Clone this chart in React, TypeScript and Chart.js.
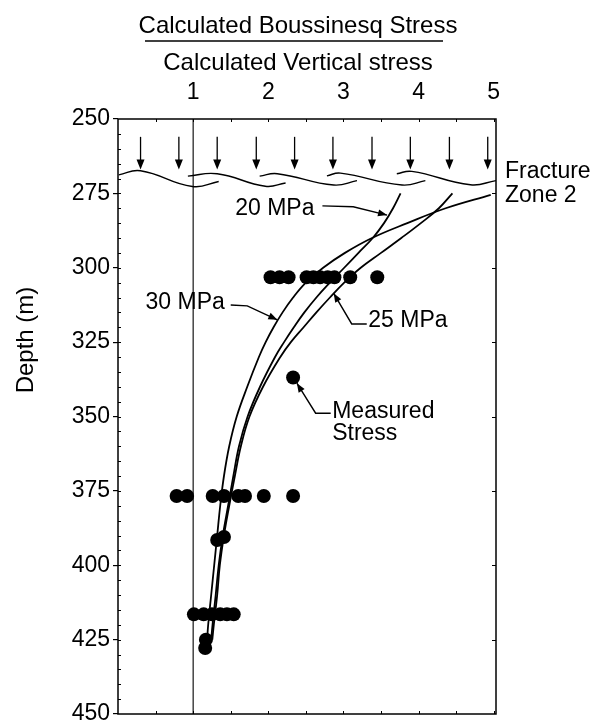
import React, { useEffect, useRef } from "react";
import { Chart, registerables } from "chart.js";

Chart.register(...registerables);

const FONT = '"Liberation Sans", Arial, Helvetica, sans-serif';

// ---- axes ----
const xTickValues = [1, 2, 3, 4, 5];
const xMin = 0;
const xMax = 5.03;
const depthMin = 250;
const depthMax = 450;
const depthStep = 25;

// ---- calculated curves (stress read at depth) ----
const curveDepth = [275, 280, 285, 290, 295, 300, 305, 310, 315, 320, 325, 330, 340, 350, 360, 370, 380, 390, 400, 410, 420, 425];
const curve20Stress = [3.76, 3.66, 3.54, 3.39, 3.2, 3.01, 2.82, 2.64, 2.48, 2.34, 2.21, 2.09, 1.89, 1.725, 1.61, 1.535, 1.465, 1.395, 1.34, 1.3, 1.258, 1.24];
const curve25Stress = [4.45, 4.27, 4.03, 3.77, 3.5, 3.23, 3.01, 2.82, 2.64, 2.47, 2.3, 2.16, 1.93, 1.75, 1.635, 1.555, 1.48, 1.41, 1.355, 1.32, 1.275, 1.255];
const curve30Depth = [275.5, 280, 285, 290, 295, 300, 305, 310, 315, 320, 325, 330, 340, 350, 360, 370, 380, 390, 400, 410, 420, 425];
const curve30Stress = [4.96, 4.36, 3.85, 3.38, 3.02, 2.73, 2.5, 2.33, 2.19, 2.07, 1.965, 1.875, 1.72, 1.58, 1.48, 1.41, 1.36, 1.32, 1.28, 1.24, 1.2, 1.186];

// ---- measured stress ----
const measuredStress = [
  2.03, 2.15, 2.27, 2.51, 2.6, 2.69, 2.79, 2.88, 3.09, 3.45,
  2.33,
  0.78, 0.92, 1.26, 1.41, 1.6, 1.69, 1.94, 2.33,
  1.32, 1.41,
  1.01, 1.14, 1.25, 1.36, 1.45, 1.54,
  1.17, 1.16,
];
const measuredDepth = [
  303.2, 303.2, 303.2, 303.2, 303.2, 303.2, 303.2, 303.2, 303.2, 303.2,
  336.9,
  376.7, 376.7, 376.7, 376.7, 376.7, 376.7, 376.7, 376.7,
  391.5, 390.5,
  416.5, 416.5, 416.5, 416.5, 416.5, 416.5,
  425, 427.8,
];

// ---- reference line at calculated vertical stress = 1 ----
const refStress = [1, 1];
const refDepth = [250, 450];

// ---- fracture zone 2 sketch (wavy segments and load arrows) ----
const wave1Stress = [0.01, 0.3, 0.99, 1.34];
const wave1Depth = [268.8, 267.4, 272.7, 271.0];
const wave2Stress = [0.93, 1.32, 1.96, 2.23];
const wave2Depth = [269.2, 268.4, 272.6, 271.5];
const wave3Stress = [1.885, 2.12, 2.87, 3.18];
const wave3Depth = [269.2, 268.4, 272.2, 270.7];
const wave4Stress = [2.78, 2.96, 3.78, 4.09];
const wave4Depth = [269.1, 268.2, 272.2, 270.7];
const wave5Stress = [3.71, 3.91, 4.69, 5.03];
const wave5Depth = [268.4, 267.6, 272.1, 270.7];

const loadArrowStress = [0.3, 0.81, 1.32, 1.84, 2.35, 2.86, 3.38, 3.89, 4.41, 4.92];
const loadArrowTopDepth = 256;
const loadArrowTipDepth = 267;

// ---- labels ----
const topTitle = "Calculated Boussinesq Stress";
const subTitle = "Calculated Vertical stress";
const yTitle = "Depth (m)";

type Note = { lines: string[]; x: number; y: number; dy?: number; leader?: number[][] };
const notes: Note[] = [
  { lines: ["20 MPa"], x: 1.56, y: 282.3, leader: [[2.72, 279.2], [3.13, 279.5], [3.58, 282.3]] },
  { lines: ["30 MPa"], x: 0.366, y: 313.9, leader: [[1.5, 312.5], [1.72, 312.8], [2.12, 317.5]] },
  { lines: ["25 MPa"], x: 3.33, y: 320.0, leader: [[3.31, 318.9], [3.11, 318.9], [2.87, 308.6]] },
  { lines: ["Measured", "Stress"], x: 2.85, y: 350.6, dy: 7.3, leader: [[2.83, 348.9], [2.63, 348.9], [2.38, 338.8]] },
  { lines: ["Fracture", "Zone 2"], x: 5.15, y: 269.9, dy: 7.9 },
];

function arrowHead(ctx: CanvasRenderingContext2D, x0: number, y0: number, x1: number, y1: number, len: number, half: number) {
  const a = Math.atan2(y1 - y0, x1 - x0);
  const c = Math.cos(a), s = Math.sin(a);
  ctx.beginPath();
  ctx.moveTo(x1, y1);
  ctx.lineTo(x1 - len * c + half * s, y1 - len * s - half * c);
  ctx.lineTo(x1 - len * c - half * s, y1 - len * s + half * c);
  ctx.closePath();
  ctx.fill();
}

const decor = {
  id: "decor",
  afterDraw(chart: any) {
    const ctx: CanvasRenderingContext2D = chart.ctx;
    const xs = chart.scales.x;
    const ys = chart.scales.y;
    const { left, right, top, bottom } = chart.chartArea;
    const px = (v: number) => xs.getPixelForValue(v);
    const py = (v: number) => ys.getPixelForValue(v);
    ctx.save();
    ctx.strokeStyle = "#000";
    ctx.fillStyle = "#000";

    // frame
    ctx.lineWidth = 1.5;
    ctx.strokeRect(left, top, right - left, bottom - top);

    // minor ticks
    ctx.lineWidth = 1;
    ctx.beginPath();
    for (let d = depthMin + 5; d < depthMax; d += 5) {
      const y = Math.round(py(d)) + 0.5;
      ctx.moveTo(left, y);
      ctx.lineTo(left + 3, y);
      if (d % 25 === 0) {
        ctx.moveTo(right, y);
        ctx.lineTo(right - 4, y);
      }
    }
    for (let v = 0.5; v < xMax; v += 0.5) {
      const x = Math.round(px(v)) + 0.5;
      ctx.moveTo(x, top);
      ctx.lineTo(x, top + 3);
      ctx.moveTo(x, bottom);
      ctx.lineTo(x, bottom - 3);
    }
    ctx.stroke();

    // load arrows
    ctx.lineWidth = 1.3;
    for (const v of loadArrowStress) {
      const x = px(v);
      const y0 = py(loadArrowTopDepth);
      const y1 = py(loadArrowTipDepth);
      ctx.beginPath();
      ctx.moveTo(x, y0);
      ctx.lineTo(x, y1 - 6);
      ctx.stroke();
      arrowHead(ctx, x, y0, x, y1, 10, 4);
    }

    // notes
    ctx.font = `23px ${FONT}`;
    ctx.textAlign = "left";
    ctx.textBaseline = "alphabetic";
    ctx.lineWidth = 1.4;
    for (const n of notes) {
      n.lines.forEach((t, i) => {
        ctx.fillText(t, px(n.x), py(n.y + i * (n.dy || 0)));
      });
      if (n.leader) {
        const pts = n.leader.map((p) => [px(p[0]), py(p[1])]);
        ctx.beginPath();
        ctx.moveTo(pts[0][0], pts[0][1]);
        for (let i = 1; i < pts.length; i++) ctx.lineTo(pts[i][0], pts[i][1]);
        ctx.stroke();
        const a = pts[pts.length - 2];
        const b = pts[pts.length - 1];
        arrowHead(ctx, a[0], a[1], b[0], b[1], 9, 3.5);
      }
    }

    // titles
    ctx.font = `24px ${FONT}`;
    ctx.textAlign = "center";
    ctx.fillText(topTitle, 298, 33);
    ctx.lineWidth = 1.5;
    ctx.beginPath();
    ctx.moveTo(145, 41);
    ctx.lineTo(443, 41);
    ctx.stroke();
    ctx.fillText(subTitle, 298, 70);

    ctx.save();
    ctx.translate(33, 340);
    ctx.rotate(-Math.PI / 2);
    ctx.textAlign = "center";
    ctx.fillText(yTitle, 0, 0);
    ctx.restore();

    ctx.restore();
  },
};

const pts = (xs: number[], ys: number[]) => xs.map((x, i) => ({ x, y: ys[i] }));

export default function App() {
  const ref = useRef<HTMLCanvasElement>(null);
  useEffect(() => {
    const canvas = ref.current;
    if (!canvas) return;
    const line = (label: string, xs: number[], ys: number[], width: number, tension: number) => ({
      label,
      data: pts(xs, ys),
      showLine: true,
      borderColor: "#000",
      backgroundColor: "#000",
      borderWidth: width,
      pointRadius: 0,
      pointHoverRadius: 0,
      tension,
      fill: false,
    });
    const chart = new Chart(canvas, {
      type: "scatter",
      data: {
        datasets: [
          line("ref", refStress, refDepth, 1.1, 0),
          line("wave1", wave1Stress, wave1Depth, 1.4, 0.45),
          line("wave2", wave2Stress, wave2Depth, 1.4, 0.45),
          line("wave3", wave3Stress, wave3Depth, 1.4, 0.45),
          line("wave4", wave4Stress, wave4Depth, 1.4, 0.45),
          line("wave5", wave5Stress, wave5Depth, 1.4, 0.45),
          line("20 MPa", curve20Stress, curveDepth, 1.8, 0.4),
          line("25 MPa", curve25Stress, curveDepth, 1.8, 0.4),
          line("30 MPa", curve30Stress, curve30Depth, 1.8, 0.4),
          {
            label: "Measured Stress",
            data: pts(measuredStress, measuredDepth),
            pointRadius: 7,
            pointHoverRadius: 7,
            pointBackgroundColor: "#000",
            pointBorderWidth: 0,
            showLine: false,
          },
        ],
      } as any,
      options: {
        animation: false,
        responsive: false,
        maintainAspectRatio: false,
        events: [],
        layout: { padding: { left: 0, top: 0, right: 96, bottom: 11 } },
        plugins: { legend: { display: false }, tooltip: { enabled: false } },
        scales: {
          x: {
            type: "linear",
            position: "top",
            min: xMin,
            max: xMax,
            afterFit: (s: any) => {
              s.height = 119;
              s.paddingLeft = 0;
              s.paddingRight = 0;
            },
            afterBuildTicks: (s: any) => {
              s.ticks = xTickValues.map((v) => ({ value: v }));
            },
            grid: { display: false, drawTicks: false },
            border: { display: false },
            ticks: {
              color: "#000",
              font: { family: FONT, size: 23 },
              padding: 13,
              maxRotation: 0,
              autoSkip: false,
            },
          },
          y: {
            type: "linear",
            reverse: true,
            min: depthMin,
            max: depthMax,
            afterFit: (s: any) => {
              s.width = 118;
              s.paddingTop = 0;
              s.paddingBottom = 0;
            },
            grid: { drawOnChartArea: false, drawTicks: true, tickLength: 5, color: "#000", lineWidth: 1.2 },
            border: { display: false },
            ticks: {
              stepSize: depthStep,
              color: "#000",
              font: { family: FONT, size: 23 },
              padding: 3,
              autoSkip: false,
            },
          },
        },
      } as any,
      plugins: [decor],
    });
    return () => chart.destroy();
  }, []);
  return (
    <div style={{ position: "absolute", left: 0, top: 0, width: 592, height: 725, background: "#fff" }}>
      <canvas ref={ref} width={592} height={725} style={{ display: "block", width: 592, height: 725 }} />
    </div>
  );
}
